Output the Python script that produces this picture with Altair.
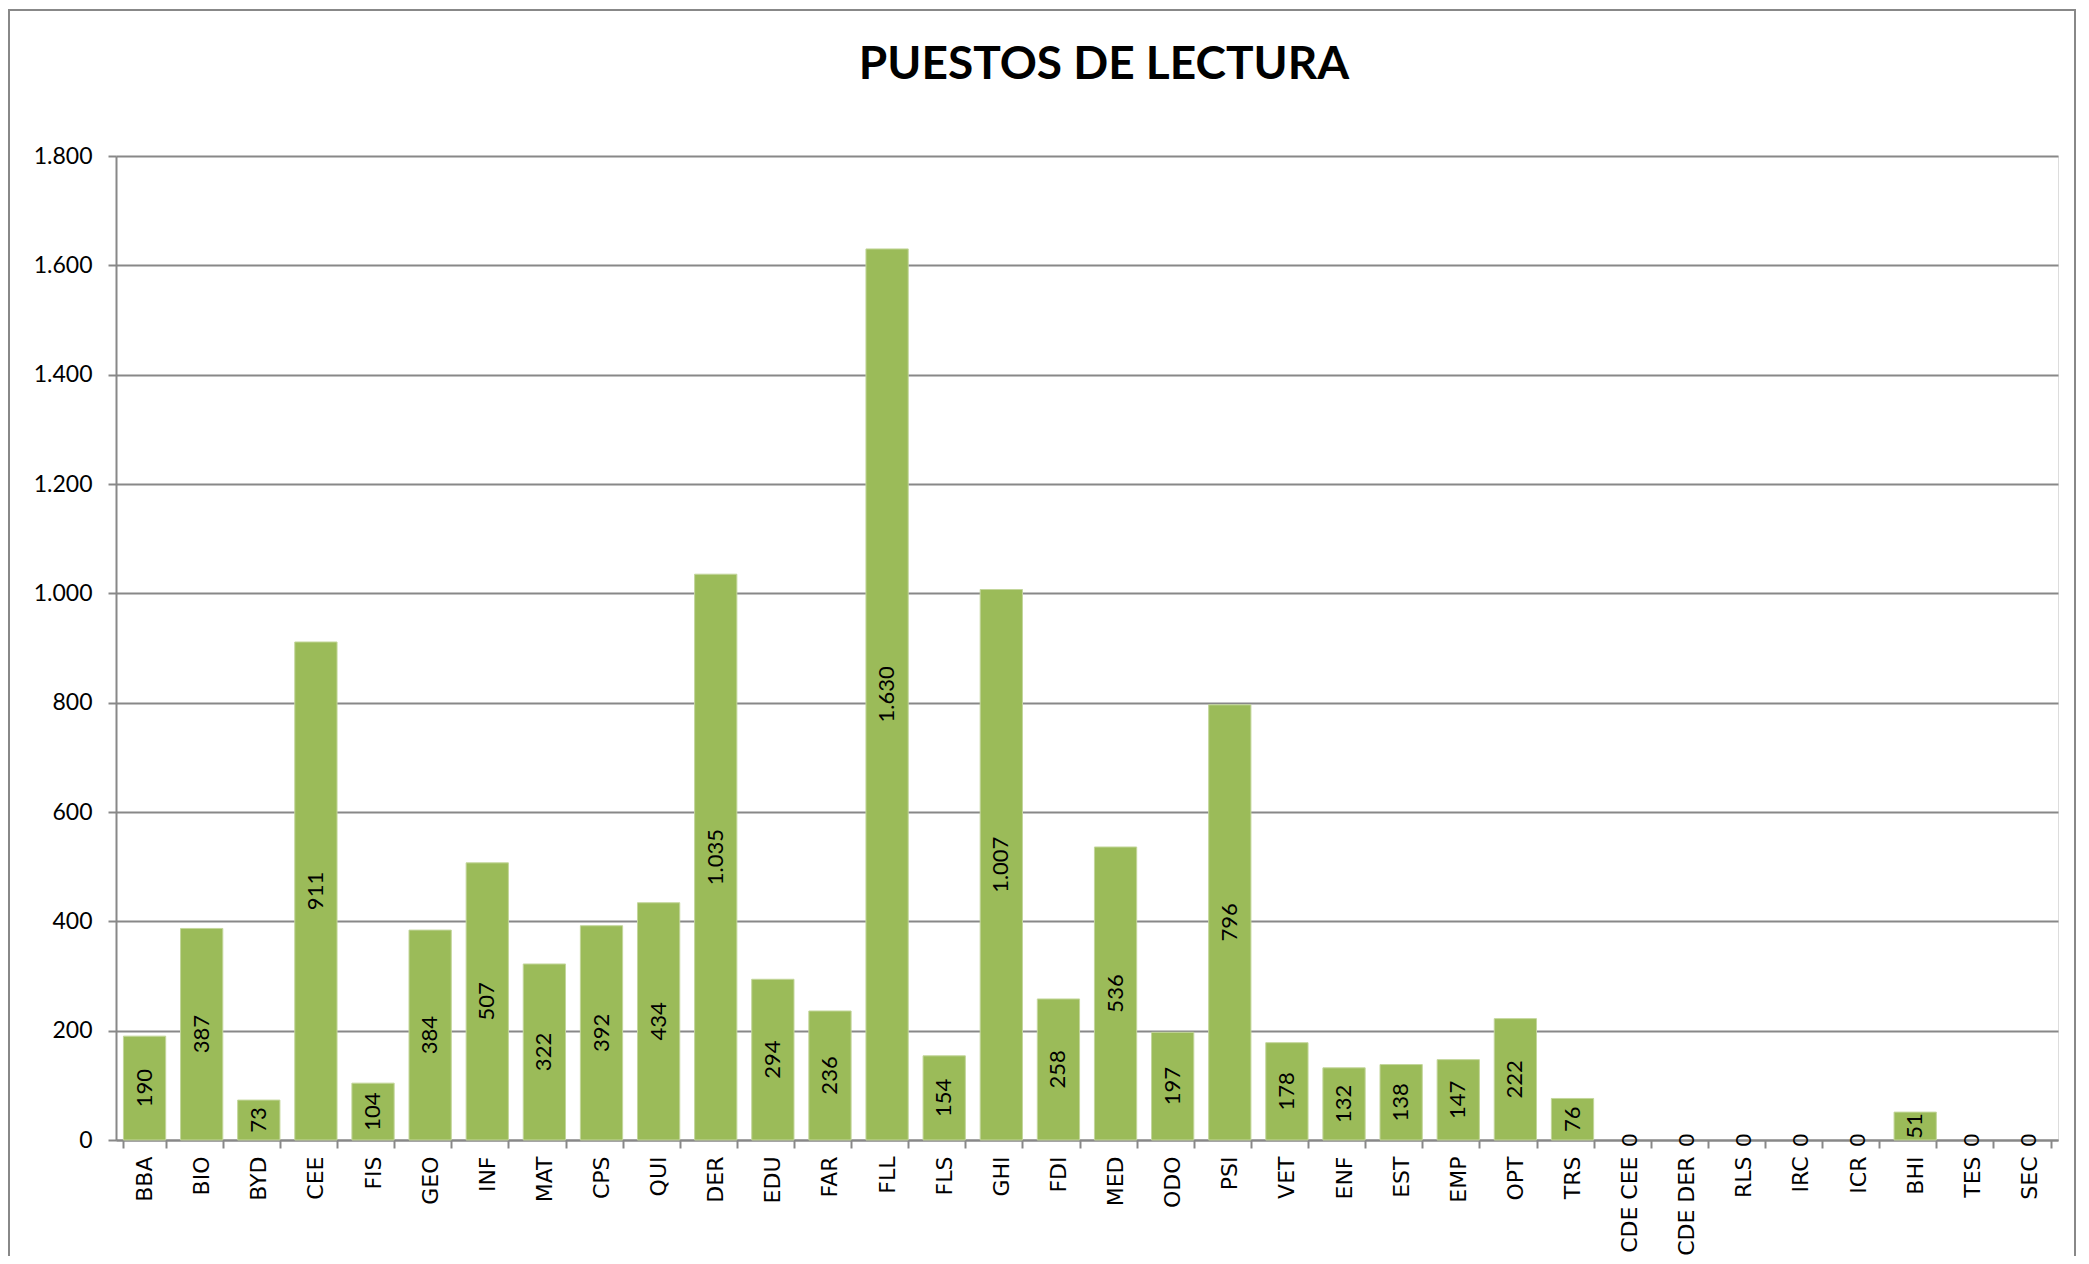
import altair as alt
import pandas as pd

categories = ["BBA", "BIO", "BYD", "CEE", "FIS", "GEO", "INF", "MAT", "CPS", "QUI",
              "DER", "EDU", "FAR", "FLL", "FLS", "GHI", "FDI", "MED", "ODO", "PSI",
              "VET", "ENF", "EST", "EMP", "OPT", "TRS", "CDE CEE", "CDE DER", "RLS",
              "IRC", "ICR", "BHI", "TES", "SEC"]
values = [190, 387, 73, 911, 104, 384, 507, 322, 392, 434,
          1035, 294, 236, 1630, 154, 1007, 258, 536, 197, 796,
          178, 132, 138, 147, 222, 76, 0, 0, 0,
          0, 0, 51, 0, 0]
y_ticks = [0, 200, 400, 600, 800, 1000, 1200, 1400, 1600, 1800]
title_text = "PUESTOS DE LECTURA"

df = pd.DataFrame({"cat": categories, "val": values})

W, H = 1942, 984
GRAY = "#888888"

x = alt.X("cat:N", sort=categories, title=None,
          scale=alt.Scale(paddingInner=0.26, paddingOuter=0.13),
          axis=alt.Axis(labelAngle=270, labelAlign="right", labelBaseline="middle",
                        labelFont="DejaVu Sans", labelFontSize=22, labelColor="#000000",
                        labelPadding=8, tickBand="extent", tickSize=8, tickColor=GRAY,
                        tickWidth=2, domainColor=GRAY, domainWidth=2, grid=False))
y = alt.Y("val:Q", title=None,
          scale=alt.Scale(domain=[0, 1800], nice=False),
          axis=alt.Axis(values=y_ticks, labelExpr="replace(format(datum.value, ','), ',', '.')",
                        labelFont="Lato", labelFontSize=23, labelColor="#000000",
                        labelPadding=16, tickSize=8, tickColor=GRAY, tickWidth=2,
                        domainColor=GRAY, domainWidth=2, grid=True, gridColor=GRAY,
                        gridWidth=2))

bars = alt.Chart(df).transform_filter("datum.val > 0").mark_bar(
    color="#9BBB59", stroke="#C3D69B", strokeWidth=1).encode(x=x, y=y)

labels = alt.Chart(df).transform_calculate(
    half="datum.val / 2",
    lab="replace(format(datum.val, ','), ',', '.')"
).mark_text(angle=270, align="center", baseline="middle", font="Lato",
            fontSize=22, color="#000000").encode(
    x=alt.X("cat:N", sort=categories),
    y=alt.Y("half:Q"),
    text="lab:N")

border = alt.Chart(df).mark_rect(fill=None, stroke=GRAY, strokeWidth=2, clip=False).encode(
    x=alt.value(-107), x2=alt.value(W + 17), y=alt.value(-146), y2=alt.value(H + 200))

title = alt.Chart(pd.DataFrame({"t": [title_text]})).mark_text(
    font="Lato", fontSize=46, fontWeight="bold", color="#000000",
    align="center", baseline="middle").encode(
    x=alt.value(W / 2 + 17), y=alt.value(-91), text="t:N")

chart = alt.layer(border, bars, labels, title).properties(
    width=W, height=H,
    autosize=alt.AutoSizeParams(type="none"),
    padding={"left": 108, "top": 148, "right": 22, "bottom": 116},
).configure_view(stroke=None).configure(background="#FFFFFF")

chart.save("out.html", embed_options={"renderer": "svg", "actions": False})
